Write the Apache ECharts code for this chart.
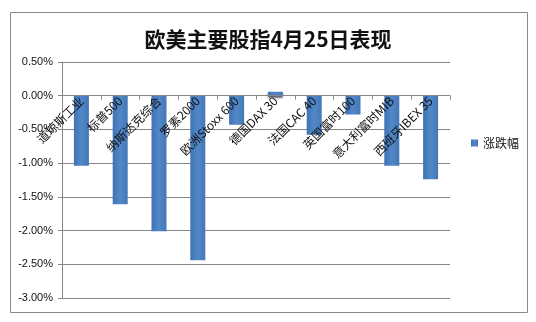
<!DOCTYPE html>
<html>
<head>
<meta charset="utf-8">
<script src="https://cdn.jsdelivr.net/npm/echarts@6/dist/echarts.min.js"></script>
<style>html,body{margin:0;padding:0;background:#fff;}#c{width:536px;height:322px;}</style>
</head>
<body>
<div id="c"></div>
<script>
var categories = ['道琼斯工业','标普500','纳斯达克综合','罗素2000','欧洲Stoxx 600','德国DAX 30','法国CAC 40','英国富时100','意大利富时MIB','西班牙IBEX 35'];
var values = [-1.04, -1.61, -2.01, -2.44, -0.43, 0.06, -0.58, -0.28, -1.04, -1.24];
var seriesName = '涨跌幅';
var titleText = '欧美主要股指4月25日表现';
var yMin = -3, yMax = 0.5, yStep = 0.5;

var gridTop = 62, gridBottom = 24, H = 322;
var chart = echarts.init(document.getElementById('c'), null, {renderer: 'canvas'});
chart.setOption({
  backgroundColor: '#fff',
  animation: false,
  title: {
    text: titleText, left: 'center', top: 24,
    textStyle: {fontFamily: 'Noto Sans CJK SC', fontSize: 21, fontWeight: 'bold', color: '#111'}
  },
  graphic: [{
    type: 'rect', z: -1, silent: true,
    shape: {x: 10.5, y: 12.5, width: 517, height: 300},
    style: {fill: 'none', stroke: '#8a8a8a', lineWidth: 1}
  }],
  legend: {
    data: [seriesName], left: 466, top: 132, icon: 'rect', itemWidth: 7, itemHeight: 7, itemGap: 4,
    textStyle: {fontFamily: 'Noto Sans CJK SC', fontSize: 12, color: '#111'}
  },
  grid: {left: 62, right: 86, top: gridTop, bottom: gridBottom, containLabel: false, outerBoundsMode: 'none'},
  xAxis: {
    type: 'category', data: categories, z: 10,
    axisLine: {onZero: false, lineStyle: {color: '#868686', width: 1}},
    axisTick: {show: true, length: 4, lineStyle: {color: '#868686'}},
    axisLabel: {rotate: 45, margin: 3, interval: 0, fontFamily: 'Noto Sans CJK SC', fontSize: 12, color: '#111'},
    splitLine: {show: false}
  },
  yAxis: {
    type: 'value', min: yMin, max: yMax, interval: yStep,
    axisLine: {show: true, lineStyle: {color: '#868686'}},
    axisTick: {show: true, length: 4, lineStyle: {color: '#868686'}},
    axisLabel: {margin: 9, fontFamily: 'Liberation Sans', fontSize: 11, color: '#111',
      formatter: function (v) { return v.toFixed(2) + '%'; }},
    splitLine: {show: true, lineStyle: {color: '#868686', width: 1}}
  },
  series: [{
    name: seriesName, type: 'bar', data: values, barWidth: 15,
    itemStyle: {
      color: new echarts.graphic.LinearGradient(0, 0, 1, 0, [
        {offset: 0, color: '#3f72b4'}, {offset: 0.5, color: '#5188c8'}, {offset: 1, color: '#4477b8'}
      ]),
      shadowColor: 'rgba(20,30,50,0.75)', shadowBlur: 2, shadowOffsetY: 2
    }
  }]
});
// move the category axis (line, ticks, labels) up to the zero value, as in the reference
var zeroY = chart.convertToPixel({yAxisIndex: 0}, 0);
var axisBottomY = H - gridBottom;
chart.setOption({xAxis: {offset: -(axisBottomY - zeroY)}});
</script>
</body>
</html>
